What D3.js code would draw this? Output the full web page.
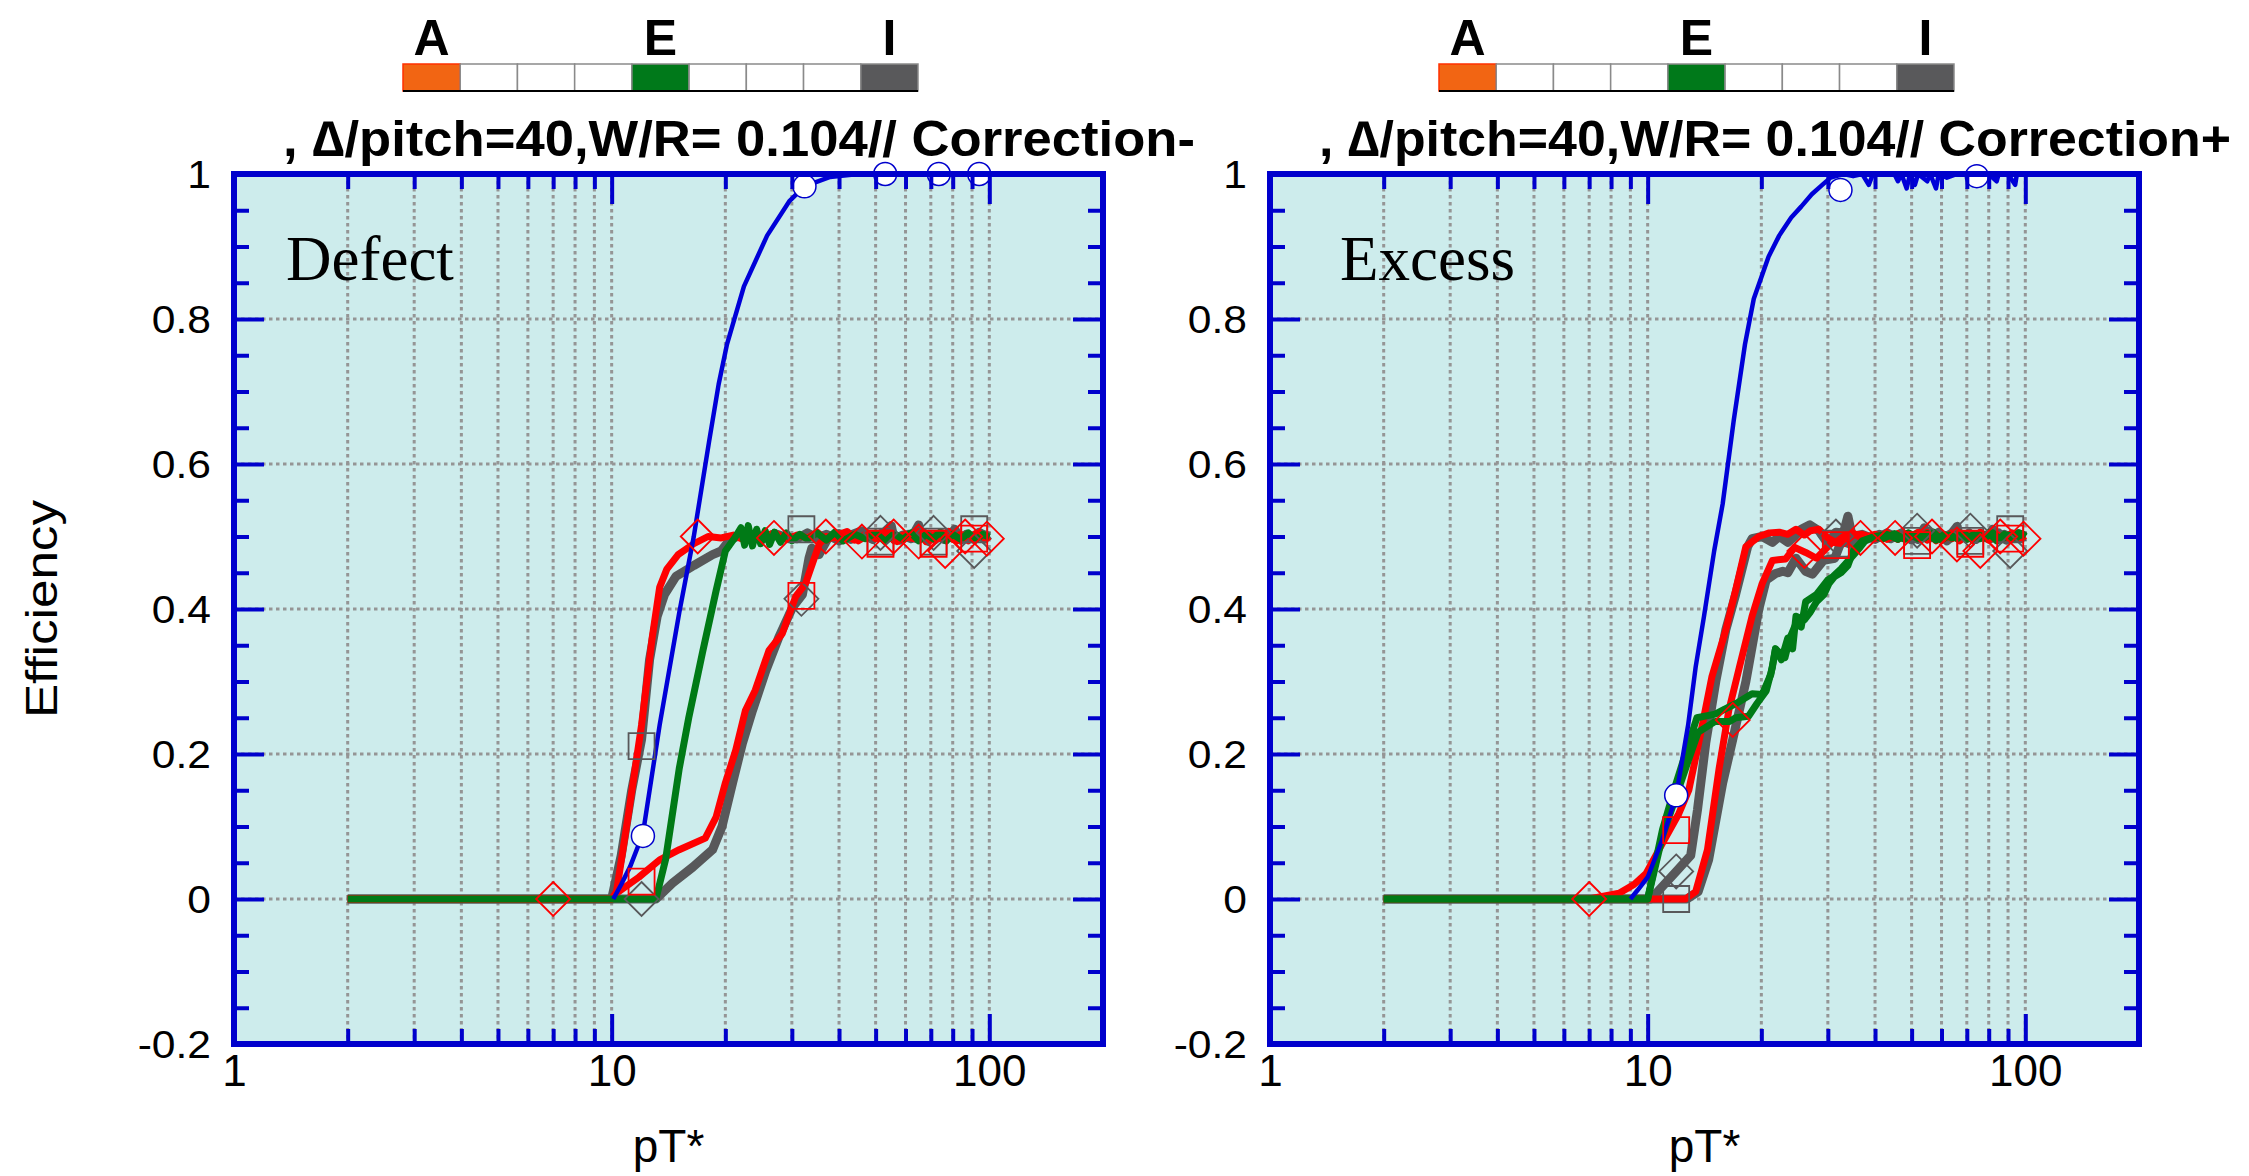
<!DOCTYPE html>
<html>
<head>
<meta charset="utf-8">
<script src="https://cdn.jsdelivr.net/npm/d3@7"></script>
<style>
  body { margin: 0; background: #fff; }
  text { font-family: "Liberation Sans", Arial, sans-serif; }
</style>
</head>
<body>
<svg id="chart"></svg>
<script>
// ---- data (pT*, efficiency) ----
var xMajorTicks = [10, 100];
var xMinorTicks = [2, 3, 4, 5, 6, 7, 8, 9, 20, 30, 40, 50, 60, 70, 80, 90];
var xLabelTicks = [1, 10, 100];
var xGridLines = [2, 3, 4, 5, 6, 7, 8, 9, 10, 20, 30, 40, 50, 60, 70, 80, 90, 100];
var yMajorTicks = [0, 0.2, 0.4, 0.6, 0.8];
var yMinorTicks = [-0.15, -0.1, -0.05, 0.05, 0.1, 0.15, 0.25, 0.3, 0.35, 0.45, 0.5, 0.55, 0.65, 0.7, 0.75, 0.85, 0.9, 0.95];
var yLabelTicks = [-0.2, 0, 0.2, 0.4, 0.6, 0.8, 1];
var yGridLines = [0, 0.2, 0.4, 0.6, 0.8];

var cellLetters = ["A", "", "", "", "E", "", "", "", "I"];
var cellColors = ["#f26513", "#ffffff", "#ffffff", "#ffffff", "#00791a", "#ffffff", "#ffffff", "#ffffff", "#59595b"];

var panelNames = ["Defect", "Excess"];
var panelTitles = [", \u2206/pitch=40,W/R= 0.104// Correction-", ", \u2206/pitch=40,W/R= 0.104// Correction+"];

// Defect panel
var defectBlue = [[10.1,0],[10.6,0.02],[11.2,0.045],[12.1,0.09],[13.4,0.24],[15.1,0.395],[16.5,0.5],[18.1,0.63],[19.2,0.71],[20.2,0.765],[22.4,0.845],[25.8,0.915],[29.6,0.963],[32.4,0.983],[37.9,0.996],[45,1],[100,1]];
var defectRedFast = [[2,0],[10,0],[10.3,0.01],[11.1,0.12],[12,0.24],[12.8,0.36],[13.4,0.43],[14,0.455],[15,0.475],[16.5,0.49],[18,0.5],[19.5,0.498],[21,0.502],[22,0.497],[23.5,0.503],[25,0.499],[27,0.505],[29,0.496],[31,0.502],[33,0.498],[35,0.506],[37,0.495],[39,0.501],[42,0.507],[45,0.494],[48,0.503],[51,0.498],[54,0.508],[57,0.493],[60,0.502],[63,0.497],[66,0.506],[69,0.492],[72,0.503],[75,0.499],[78,0.507],[82,0.494],[86,0.502],[90,0.497],[94,0.505],[97,0.495],[100,0.5]];
var defectGrayFast = [[2,0],[10,0],[10.6,0.06],[11.3,0.15],[12,0.22],[12.6,0.33],[13.2,0.39],[13.8,0.42],[14.8,0.445],[16.5,0.46],[18.5,0.475],[19.5,0.48],[20.5,0.495],[21.5,0.5],[23,0.502],[25,0.496],[27,0.504],[29,0.499],[31,0.497],[33,0.505],[35,0.498],[37,0.503],[40,0.494],[43,0.502],[46,0.508],[49,0.496],[52,0.503],[55,0.515],[56,0.496],[59,0.502],[62,0.497],[65,0.516],[66,0.498],[69,0.503],[72,0.496],[75,0.504],[78,0.499],[81,0.51],[84,0.495],[87,0.503],[90,0.498],[94,0.506],[97,0.497],[100,0.502]];
var defectRedSlow = [[2,0],[10,0],[10.3,0.008],[11.8,0.03],[13.4,0.054],[15.1,0.068],[17.7,0.084],[18.9,0.113],[20,0.16],[21.3,0.205],[22.6,0.26],[24,0.288],[26.1,0.343],[28.3,0.366],[30.7,0.417],[32.6,0.435],[34.3,0.468],[35.5,0.49],[37,0.5],[39,0.498],[41,0.504],[44,0.495],[47,0.503],[50,0.497],[53,0.506],[56,0.494],[59,0.502],[62,0.498],[65,0.507],[68,0.493],[71,0.502],[74,0.497],[77,0.505],[80,0.496],[84,0.503],[88,0.494],[92,0.504],[96,0.498],[100,0.501]];
var defectGraySlow = [[2,0],[13.1,0],[14.5,0.022],[16.4,0.044],[18.5,0.068],[19.6,0.1],[20.9,0.16],[22.2,0.215],[23.6,0.26],[25.6,0.315],[27.7,0.361],[30.1,0.402],[32,0.42],[33.3,0.47],[33.9,0.484],[35.4,0.475],[37.6,0.5],[40,0.504],[43,0.496],[46,0.502],[49,0.497],[52,0.505],[55,0.499],[58,0.495],[61,0.503],[64,0.497],[67,0.505],[70,0.498],[73,0.502],[76,0.496],[79,0.505],[83,0.497],[87,0.503],[91,0.496],[95,0.504],[100,0.5]];
var defectGreen = [[2,0],[13.1,0],[13.9,0.055],[15.1,0.18],[16,0.25],[17.4,0.34],[18.9,0.425],[20,0.48],[21.3,0.5],[22,0.512],[22.5,0.488],[23,0.515],[23.6,0.487],[24.2,0.51],[24.8,0.49],[25.5,0.508],[26.2,0.489],[27,0.506],[28,0.492],[29,0.505],[30,0.494],[31.5,0.503],[33,0.496],[35,0.505],[37,0.495],[39,0.506],[41,0.494],[44,0.503],[47,0.497],[50,0.505],[53,0.493],[56,0.504],[59,0.496],[62,0.505],[65,0.494],[68,0.503],[71,0.497],[74,0.506],[77,0.494],[80,0.503],[84,0.496],[88,0.505],[92,0.495],[96,0.503],[100,0.499]];
var defectCircles = [[12.1,0.087],[32.4,0.983],[53,1],[73.5,1],[94,1]];
var defectRedDiamonds = [[7,0],[16.9,0.5],[26.9,0.498],[36.9,0.5],[46,0.493],[55.8,0.5],[65,0.493],[76.4,0.48],[86.3,0.5],[98.5,0.497]];
var defectRedSquares = [[12,0.024],[31.8,0.418],[51.5,0.49],[71.2,0.49],[91.2,0.497]];
var defectGrayDiamonds = [[12,0],[31.8,0.414],[51.5,0.505],[71.2,0.505],[91.2,0.48]];
var defectGraySquares = [[12,0.211],[31.8,0.51],[51.5,0.493],[71.2,0.493],[91.2,0.51]];

// Excess panel
var excessBlue = [[9,0],[9.4,0.012],[10,0.03],[10.9,0.08],[11.9,0.143],[12.8,0.24],[13.4,0.32],[14.1,0.39],[15,0.48],[15.8,0.545],[16.9,0.66],[18.1,0.765],[19.1,0.828],[20.9,0.886],[22.3,0.915],[24,0.94],[25.5,0.955],[27.2,0.972],[29,0.985],[30.5,0.995],[33,1],[35,0.997],[37,1],[38.5,0.985],[39.5,1],[45,1],[46,0.99],[47,1],[48.5,0.98],[49.5,1],[51,0.985],[52,1],[55,0.99],[56,1],[58,0.98],[59,1],[62,0.995],[66,1],[80,1],[84,0.99],[85,1],[90,1],[94,0.985],[95,1],[100,1]];
var excessRedFast = [[2,0],[7,0],[8.4,0.008],[9.2,0.02],[9.9,0.035],[10.95,0.077],[12.1,0.118],[12.85,0.15],[13.65,0.215],[14.8,0.307],[16.1,0.371],[17.1,0.426],[18.2,0.486],[19.7,0.5],[21,0.505],[22.3,0.506],[23.5,0.503],[24.7,0.51],[26,0.502],[27,0.508],[28.4,0.51],[30,0.498],[31.5,0.492],[33,0.5],[35,0.505],[37,0.497],[40,0.503],[43,0.496],[46,0.504],[49,0.498],[52,0.506],[55,0.495],[58,0.503],[61,0.497],[64,0.505],[67,0.494],[70,0.502],[73,0.498],[76,0.506],[80,0.495],[84,0.503],[88,0.497],[92,0.505],[96,0.496],[100,0.501]];
var excessGrayFast = [[2,0],[10.2,0],[11.9,0.038],[13,0.06],[13.55,0.123],[14.25,0.215],[15.15,0.3],[16.1,0.371],[17.1,0.42],[18.4,0.486],[18.9,0.497],[20.1,0.5],[21.4,0.492],[22.3,0.5],[23.5,0.492],[24.5,0.5],[25.5,0.51],[26.9,0.516],[28.4,0.508],[30,0.49],[31.5,0.506],[33,0.505],[33.9,0.528],[34.8,0.5],[37,0.503],[40,0.496],[43,0.505],[46,0.498],[49,0.503],[52,0.496],[54,0.512],[55,0.497],[58,0.503],[61,0.498],[64,0.505],[66,0.514],[67,0.497],[70,0.503],[73,0.496],[76,0.504],[79,0.498],[82,0.51],[84,0.496],[88,0.503],[92,0.497],[96,0.504],[100,0.5]];
var excessRedSlow = [[2,0],[10,0],[12.6,0],[13.4,0.01],[14.4,0.068],[15.46,0.18],[16.4,0.26],[17.5,0.32],[18.9,0.39],[20.1,0.435],[21.4,0.467],[23.2,0.469],[24.5,0.485],[26.2,0.478],[28,0.47],[30.8,0.492],[33,0.49],[35,0.502],[37,0.503],[40,0.497],[43,0.505],[46,0.496],[49,0.503],[52,0.498],[55,0.506],[58,0.494],[61,0.502],[64,0.497],[67,0.505],[70,0.496],[73,0.503],[76,0.498],[80,0.505],[84,0.495],[88,0.502],[92,0.497],[96,0.504],[100,0.499]];
var excessGraySlow = [[2,0],[12.7,0],[13.6,0.01],[14.5,0.054],[15.8,0.16],[16.8,0.22],[18.2,0.3],[19.7,0.4],[20.6,0.44],[21.8,0.449],[22.8,0.452],[23.5,0.45],[24.7,0.47],[26.2,0.452],[27.3,0.448],[29.2,0.467],[31.3,0.47],[32.6,0.494],[34.6,0.489],[36.2,0.5],[38,0.496],[41,0.503],[44,0.497],[47,0.505],[50,0.495],[53,0.502],[56,0.498],[59,0.506],[62,0.494],[65,0.503],[68,0.498],[71,0.505],[74,0.496],[77,0.502],[81,0.497],[85,0.505],[89,0.495],[93,0.503],[97,0.498],[100,0.5]];
var excessGreenA = [[2,0],[10,0],[10.95,0.096],[11.9,0.16],[12.85,0.215],[13.5,0.25],[15.1,0.255],[16,0.262],[17.2,0.27],[18.9,0.283],[20.1,0.282],[21.2,0.31],[21.8,0.345],[22.6,0.33],[23.5,0.36],[24.2,0.345],[24.7,0.39],[26,0.385],[26.9,0.395],[28,0.41],[29.3,0.42],[30.2,0.435],[31.3,0.445],[32.5,0.45],[33.9,0.46],[35,0.48],[37,0.494],[40,0.5],[43,0.503],[46,0.496],[49,0.505],[52,0.497],[55,0.504],[58,0.495],[61,0.503],[64,0.498],[67,0.505],[70,0.496],[73,0.503],[76,0.497],[80,0.505],[84,0.494],[88,0.503],[92,0.498],[96,0.505],[100,0.5]];
var excessGreenB = [[2,0],[10,0],[10.95,0.087],[12.6,0.18],[13.6,0.23],[15.1,0.245],[16.5,0.245],[17.1,0.25],[18.5,0.252],[19.5,0.27],[20.6,0.287],[21.4,0.32],[21.8,0.345],[23.1,0.333],[23.8,0.36],[24.7,0.38],[25.5,0.375],[26.2,0.41],[28,0.42],[30,0.44],[31,0.445],[32.6,0.456],[35,0.474],[36.5,0.485],[37.8,0.495],[40,0.5],[42,0.497],[45,0.504],[48,0.496],[51,0.503],[54,0.498],[57,0.506],[60,0.495],[63,0.502],[66,0.497],[69,0.504],[72,0.496],[75,0.503],[78,0.498],[82,0.505],[86,0.495],[90,0.502],[94,0.497],[98,0.504],[100,0.5]];
var excessCircles = [[11.9,0.143],[32.4,0.978],[74.4,0.997]];
var excessRedDiamonds = [[7,0],[16.8,0.247],[26,0.48],[36.6,0.498],[45.2,0.498],[56.6,0.5],[65.9,0.489],[76,0.48],[85.8,0.5],[98.9,0.497]];
var excessRedSquares = [[11.9,0.095],[31.5,0.488],[51.7,0.488],[71.5,0.49],[91.2,0.497]];
var excessGrayDiamonds = [[11.9,0.038],[31.5,0.5],[51.7,0.508],[71.5,0.508],[91.2,0.48]];
var excessGraySquares = [[11.9,0],[31.5,0.49],[51.7,0.494],[71.5,0.494],[91.2,0.51]];

// ---- layout ----
var svgWidth = 2249, svgHeight = 1176;
var plotWidth = 869, plotHeight = 870;
var plotTop = 174;
var frameBlue = "#0000cc", redC = "#ff0000", grayC = "#58585a", greenC = "#007a16", blueC = "#0000d8";

var svg = d3.select("#chart")
  .attr("width", svgWidth)
  .attr("height", svgHeight);

var xScale = d3.scaleLog().domain([1, 200]).range([0, plotWidth]);
var yScale = d3.scaleLinear().domain([-0.2, 1]).range([plotHeight, 0]);

var line = d3.line().x(d => xScale(d[0])).y(d => yScale(d[1]));

// open marker shapes
var diamondType = { draw: function(ctx, size) { var r = Math.sqrt(size) / 2; ctx.moveTo(0, -r); ctx.lineTo(r, 0); ctx.lineTo(0, r); ctx.lineTo(-r, 0); ctx.closePath(); } };
var squareType = { draw: function(ctx, size) { var r = Math.sqrt(size) / 2; ctx.rect(-r, -r, 2 * r, 2 * r); } };

var panels = [
  { left: 234, name: panelNames[0], nameDx: 52, title: panelTitles[0],
    series: [
      { data: defectGraySlow, color: grayC, width: 9 },
      { data: defectGrayFast, color: grayC, width: 9 },
      { data: defectRedSlow, color: redC, width: 7 },
      { data: defectRedFast, color: redC, width: 7 },
      { data: defectGreen, color: greenC, width: 7 },
      { data: defectBlue, color: blueC, width: 4.5 }
    ],
    circles: defectCircles, redDiamonds: defectRedDiamonds, redSquares: defectRedSquares,
    grayDiamonds: defectGrayDiamonds, graySquares: defectGraySquares },
  { left: 1270, name: panelNames[1], nameDx: 70, title: panelTitles[1],
    series: [
      { data: excessGraySlow, color: grayC, width: 9 },
      { data: excessGrayFast, color: grayC, width: 9 },
      { data: excessRedSlow, color: redC, width: 7 },
      { data: excessRedFast, color: redC, width: 7 },
      { data: excessGreenA, color: greenC, width: 7 },
      { data: excessGreenB, color: greenC, width: 7 },
      { data: excessBlue, color: blueC, width: 4.5 }
    ],
    circles: excessCircles, redDiamonds: excessRedDiamonds, redSquares: excessRedSquares,
    grayDiamonds: excessGrayDiamonds, graySquares: excessGraySquares }
];

function tickSet(g, axisFn, values, size) {
  g.call(axisFn.tickValues(values).tickSize(size).tickFormat(""))
    .call(s => s.select(".domain").remove())
    .call(s => s.selectAll("line").attr("stroke", frameBlue).attr("stroke-width", 4));
}

panels.forEach(function(p) {
  var g = svg.append("g").attr("transform", `translate(${p.left}, ${plotTop})`);

  g.append("rect")
    .attr("width", plotWidth).attr("height", plotHeight)
    .attr("fill", "#cdecec");

  // dotted grid
  g.append("g").selectAll("line").data(xGridLines).enter().append("line")
    .attr("x1", d => xScale(d)).attr("x2", d => xScale(d))
    .attr("y1", 0).attr("y2", plotHeight)
    .attr("stroke", "#959595").attr("stroke-width", 3).attr("stroke-dasharray", "3.5,3.5");
  g.append("g").selectAll("line").data(yGridLines).enter().append("line")
    .attr("x1", 0).attr("x2", plotWidth)
    .attr("y1", d => yScale(d)).attr("y2", d => yScale(d))
    .attr("stroke", "#959595").attr("stroke-width", 3).attr("stroke-dasharray", "3.5,3.5");

  // curves
  g.append("g").selectAll("path").data(p.series).enter().append("path")
    .attr("d", d => line(d.data))
    .attr("fill", "none")
    .attr("stroke", d => d.color)
    .attr("stroke-width", d => d.width)
    .attr("stroke-linejoin", "round");

  // open markers
  var markers = [
    { data: p.graySquares, type: squareType, size: 26 * 26, color: grayC },
    { data: p.grayDiamonds, type: diamondType, size: 34 * 34, color: grayC },
    { data: p.redSquares, type: squareType, size: 26 * 26, color: redC },
    { data: p.redDiamonds, type: diamondType, size: 34 * 34, color: redC }
  ];
  markers.forEach(function(m) {
    g.append("g").selectAll("path").data(m.data).enter().append("path")
      .attr("transform", d => `translate(${xScale(d[0])}, ${yScale(d[1])})`)
      .attr("d", d3.symbol().type(m.type).size(m.size))
      .attr("fill", "none").attr("stroke", m.color).attr("stroke-width", 1.8);
  });

  g.append("g").selectAll("circle").data(p.circles).enter().append("circle")
    .attr("cx", d => xScale(d[0])).attr("cy", d => yScale(d[1]))
    .attr("r", 11.5)
    .attr("fill", "#fff").attr("stroke", "#0000cc").attr("stroke-width", 1.5);

  // inward ticks on all four sides
  tickSet(g.append("g").attr("transform", `translate(0, ${plotHeight})`), d3.axisBottom(xScale), xMajorTicks, -30);
  tickSet(g.append("g").attr("transform", `translate(0, ${plotHeight})`), d3.axisBottom(xScale), xMinorTicks, -15);
  tickSet(g.append("g"), d3.axisTop(xScale), xMajorTicks, -30);
  tickSet(g.append("g"), d3.axisTop(xScale), xMinorTicks, -15);
  tickSet(g.append("g"), d3.axisLeft(yScale), yMajorTicks, -30);
  tickSet(g.append("g"), d3.axisLeft(yScale), yMinorTicks, -15);
  tickSet(g.append("g").attr("transform", `translate(${plotWidth}, 0)`), d3.axisRight(yScale), yMajorTicks, -30);
  tickSet(g.append("g").attr("transform", `translate(${plotWidth}, 0)`), d3.axisRight(yScale), yMinorTicks, -15);

  g.append("rect")
    .attr("width", plotWidth).attr("height", plotHeight)
    .attr("fill", "none").attr("stroke", frameBlue).attr("stroke-width", 6);

  // tick labels
  var xl = g.append("g").attr("transform", `translate(0, ${plotHeight})`)
    .call(d3.axisBottom(xScale).tickValues(xLabelTicks).tickSize(0).tickFormat(d3.format("d")));
  xl.select(".domain").remove();
  xl.selectAll("text").attr("y", 42).attr("dy", null)
    .attr("font-size", 44).attr("fill", "#000")
    .style("font-family", "'Liberation Sans', Arial, sans-serif");

  var yl = g.append("g")
    .call(d3.axisLeft(yScale).tickValues(yLabelTicks).tickSize(0).tickPadding(23).tickFormat(d => String(d)));
  yl.select(".domain").remove();
  yl.selectAll("text").attr("dy", "0.36em")
    .attr("font-size", 38).attr("fill", "#000")
    .style("font-family", "'Liberation Sans', Arial, sans-serif")
    .each(function() {
      var len = this.getComputedTextLength();
      d3.select(this).attr("textLength", len * 1.12).attr("lengthAdjust", "spacingAndGlyphs");
    });

  // panel name
  g.append("text")
    .attr("x", p.nameDx).attr("y", 106)
    .attr("font-size", 63)
    .style("font-family", "'Liberation Serif', 'Times New Roman', serif")
    .text(p.name);

  // axis title
  g.append("text")
    .attr("x", plotWidth / 2).attr("y", 988)
    .attr("text-anchor", "middle")
    .attr("font-size", 46)
    .text("pT*");

  // title
  svg.append("text")
    .attr("x", p.left + 49).attr("y", 156)
    .attr("font-size", 50).attr("font-weight", "bold")
    .attr("textLength", 912).attr("lengthAdjust", "spacingAndGlyphs")
    .text(p.title);

  // A / E / I strip
  var band = d3.scaleBand().domain(d3.range(cellColors.length)).range([p.left + 169, p.left + 684]).padding(0);
  var strip = svg.append("g");
  strip.selectAll("rect").data(cellColors).enter().append("rect")
    .attr("x", (d, i) => band(i)).attr("y", 64)
    .attr("width", band.bandwidth()).attr("height", 27)
    .attr("fill", d => d)
    .attr("stroke", (d, i) => i === 0 ? "#ff3000" : "#8a8a8a").attr("stroke-width", 1.5);
  strip.append("line")
    .attr("x1", p.left + 169).attr("x2", p.left + 684)
    .attr("y1", 91).attr("y2", 91)
    .attr("stroke", "#000").attr("stroke-width", 2);
  strip.selectAll("text").data(cellLetters).enter().append("text")
    .attr("x", (d, i) => band(i) + band.bandwidth() / 2).attr("y", 55)
    .attr("text-anchor", "middle")
    .attr("font-size", 50).attr("font-weight", "bold")
    .text(d => d);
});

svg.append("text")
  .attr("transform", `translate(57, ${plotTop + plotHeight / 2}) rotate(-90)`)
  .attr("text-anchor", "middle")
  .attr("font-size", 44)
  .attr("textLength", 218).attr("lengthAdjust", "spacingAndGlyphs")
  .text("Efficiency");
</script>
</body>
</html>
